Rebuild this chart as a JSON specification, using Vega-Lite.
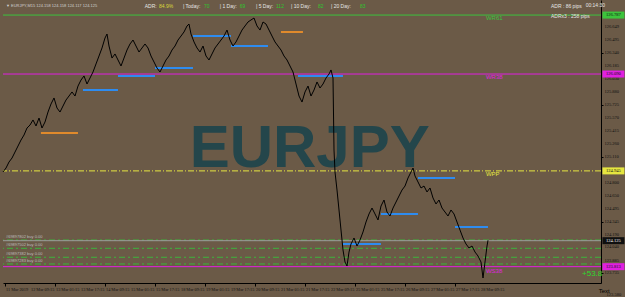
{
  "$schema": "https://vega.github.io/schema/vega-lite/v6.json",
  "width": 598,
  "height": 283,
  "padding": 0,
  "background": "#6b5a47",
  "config": {
    "view": {"stroke": null, "fill": "#6b5a47"},
    "font": "Liberation Sans",
    "axis": {"grid": false, "domainColor": "#000000", "tickColor": "#000000", "labels": false, "titleFontSize": 0}
  },
  "resolve": {"scale": {"color": "independent"}},
  "layer": [
    {
      "data": {"values": [{"t": "EURJPY", "h": 195, "p": 125.2}]},
      "mark": {"type": "text", "font": "Liberation Sans", "fontWeight": "bold", "fontSize": 60, "color": "#24464b", "align": "center", "baseline": "middle"},
      "encoding": {
        "x": {"field": "h", "type": "quantitative", "scale": {"domain": [-1.28, 381.44], "nice": false, "zero": false},
          "axis": {"orient": "bottom", "values": [0,16,32,48,64,80,96,112,128,144,160,176,192,208,224,240,256,272,288,304], "tickSize": 3, "title": null, "labels": false}},
        "y": {"field": "p", "type": "quantitative", "scale": {"domain": [123.62, 126.965], "nice": false, "zero": false},
          "axis": {"orient": "right", "values": [126.649,126.495,126.340,126.185,126.030,125.880,125.725,125.570,125.415,125.260,125.110,124.800,124.650,124.495,124.345,124.190,124.040,123.885,123.735], "tickSize": 2, "title": null, "labels": false}},
        "text": {"field": "t"}
      }
    },
    {
      "data": {"values": [
        {"kind": "orange", "h": 23.0, "h2": 46.7, "p": 125.393},
        {"kind": "blue", "h": 49.9, "h2": 72.3, "p": 125.901},
        {"kind": "blue", "h": 72.3, "h2": 96.0, "p": 126.067},
        {"kind": "blue", "h": 96.0, "h2": 120.3, "p": 126.161},
        {"kind": "blue", "h": 120.3, "h2": 144.6, "p": 126.539},
        {"kind": "blue", "h": 144.6, "h2": 168.3, "p": 126.421},
        {"kind": "orange", "h": 176.6, "h2": 190.7, "p": 126.587},
        {"kind": "blue", "h": 187.5, "h2": 216.3, "p": 126.067},
        {"kind": "blue", "h": 216.3, "h2": 240.6, "p": 124.081},
        {"kind": "blue", "h": 240.6, "h2": 264.3, "p": 124.436},
        {"kind": "blue", "h": 264.3, "h2": 288.0, "p": 124.861},
        {"kind": "blue", "h": 288.0, "h2": 309.1, "p": 124.282}
      ]},
      "mark": {"type": "rule", "strokeWidth": 2},
      "encoding": {
        "x": {"field": "h", "type": "quantitative"},
        "x2": {"field": "h2"},
        "y": {"field": "p", "type": "quantitative"},
        "color": {"field": "kind", "type": "nominal", "scale": {"domain": ["blue", "orange"], "range": ["#2e8cf0", "#e08a2c"]}, "legend": null}
      }
    },
    {
      "data": {"values": [
        {"name": "order1", "p": 124.128},
        {"name": "order2", "p": 124.030},
        {"name": "order3", "p": 123.924},
        {"name": "order4", "p": 123.845}
      ]},
      "mark": {"type": "rule", "strokeWidth": 1, "color": "#3cb43c", "strokeDash": [6, 3, 2, 3]},
      "encoding": {"y": {"field": "p", "type": "quantitative"}}
    },
    {
      "data": {"values": [
        {"name": "WR61", "p": 126.787},
        {"name": "WR38", "p": 126.090},
        {"name": "WPP", "p": 124.945},
        {"name": "Bid", "p": 124.120},
        {"name": "WS38", "p": 123.813}
      ]},
      "mark": {"type": "rule", "strokeWidth": 1},
      "encoding": {
        "y": {"field": "p", "type": "quantitative"},
        "color": {"field": "name", "type": "nominal", "scale": {"domain": ["WR61", "WR38", "WPP", "Bid", "WS38"], "range": ["#3cc43c", "#e020e0", "#e6e640", "#9c9c9c", "#e020e0"]}, "legend": null},
        "strokeDash": {"field": "name", "type": "nominal", "scale": {"domain": ["WR61", "WR38", "WPP", "Bid", "WS38"], "range": [[1, 0], [1, 0], [6, 2, 1, 2], [1, 0], [1, 0]]}, "legend": null}
      }
    },
    {
      "data": {"values": [
        {"h": -1.3, "p": 124.932}, {"h": 0.64, "p": 124.979}, {"h": 2.56, "p": 125.050}, {"h": 4.48, "p": 125.097},
        {"h": 6.4, "p": 125.168}, {"h": 8.32, "p": 125.239}, {"h": 10.24, "p": 125.310}, {"h": 12.16, "p": 125.369},
        {"h": 14.08, "p": 125.452}, {"h": 16.0, "p": 125.487}, {"h": 17.92, "p": 125.547}, {"h": 19.84, "p": 125.476},
        {"h": 21.76, "p": 125.570}, {"h": 23.68, "p": 125.452}, {"h": 25.6, "p": 125.523}, {"h": 27.52, "p": 125.641},
        {"h": 29.44, "p": 125.736}, {"h": 31.36, "p": 125.807}, {"h": 33.28, "p": 125.688}, {"h": 35.2, "p": 125.641},
        {"h": 37.12, "p": 125.712}, {"h": 39.04, "p": 125.783}, {"h": 40.96, "p": 125.830}, {"h": 42.88, "p": 125.878},
        {"h": 44.8, "p": 125.830}, {"h": 46.72, "p": 125.948}, {"h": 48.64, "p": 126.019}, {"h": 50.56, "p": 126.067},
        {"h": 52.48, "p": 125.972}, {"h": 54.4, "p": 126.043}, {"h": 56.32, "p": 126.114}, {"h": 58.24, "p": 126.209},
        {"h": 60.16, "p": 126.303}, {"h": 62.08, "p": 126.398}, {"h": 64.0, "p": 126.516}, {"h": 65.28, "p": 126.563},
        {"h": 66.56, "p": 126.421}, {"h": 68.48, "p": 126.279}, {"h": 70.4, "p": 126.327}, {"h": 72.32, "p": 126.256},
        {"h": 74.24, "p": 126.185}, {"h": 76.16, "p": 126.279}, {"h": 78.08, "p": 126.374}, {"h": 80.0, "p": 126.445},
        {"h": 81.92, "p": 126.492}, {"h": 83.84, "p": 126.421}, {"h": 85.76, "p": 126.350}, {"h": 87.68, "p": 126.398},
        {"h": 89.6, "p": 126.445}, {"h": 91.52, "p": 126.398}, {"h": 93.44, "p": 126.303}, {"h": 95.36, "p": 126.232},
        {"h": 97.28, "p": 126.161}, {"h": 99.2, "p": 126.114}, {"h": 101.12, "p": 126.185}, {"h": 103.04, "p": 126.256},
        {"h": 104.96, "p": 126.303}, {"h": 106.88, "p": 126.374}, {"h": 108.8, "p": 126.421}, {"h": 110.72, "p": 126.492},
        {"h": 112.64, "p": 126.539}, {"h": 114.56, "p": 126.587}, {"h": 116.48, "p": 126.658}, {"h": 117.76, "p": 126.681},
        {"h": 119.04, "p": 126.563}, {"h": 120.96, "p": 126.469}, {"h": 122.88, "p": 126.398}, {"h": 124.8, "p": 126.350},
        {"h": 126.72, "p": 126.421}, {"h": 128.64, "p": 126.303}, {"h": 130.56, "p": 126.256}, {"h": 132.48, "p": 126.327},
        {"h": 134.4, "p": 126.398}, {"h": 136.32, "p": 126.445}, {"h": 138.24, "p": 126.492}, {"h": 140.16, "p": 126.539},
        {"h": 142.08, "p": 126.610}, {"h": 144.0, "p": 126.492}, {"h": 145.92, "p": 126.421}, {"h": 147.84, "p": 126.469},
        {"h": 149.76, "p": 126.539}, {"h": 151.68, "p": 126.610}, {"h": 153.6, "p": 126.658}, {"h": 155.52, "p": 126.705},
        {"h": 157.44, "p": 126.729}, {"h": 159.36, "p": 126.752}, {"h": 161.28, "p": 126.658}, {"h": 163.2, "p": 126.610},
        {"h": 165.12, "p": 126.705}, {"h": 167.04, "p": 126.681}, {"h": 168.96, "p": 126.610}, {"h": 170.88, "p": 126.539},
        {"h": 172.8, "p": 126.469}, {"h": 174.72, "p": 126.421}, {"h": 176.64, "p": 126.374}, {"h": 178.56, "p": 126.303},
        {"h": 180.48, "p": 126.256}, {"h": 182.4, "p": 126.185}, {"h": 184.32, "p": 126.114}, {"h": 186.24, "p": 125.972},
        {"h": 188.16, "p": 125.830}, {"h": 190.08, "p": 125.759}, {"h": 192.0, "p": 125.878}, {"h": 193.92, "p": 125.948},
        {"h": 195.84, "p": 125.830}, {"h": 197.76, "p": 125.901}, {"h": 199.68, "p": 125.996}, {"h": 201.6, "p": 125.925},
        {"h": 203.52, "p": 125.972}, {"h": 205.44, "p": 126.043}, {"h": 207.36, "p": 126.090}, {"h": 208.64, "p": 126.138},
        {"h": 209.92, "p": 126.043}, {"h": 210.56, "p": 125.192}, {"h": 211.2, "p": 124.932}, {"h": 212.48, "p": 124.719},
        {"h": 213.76, "p": 124.483}, {"h": 215.04, "p": 124.246}, {"h": 216.32, "p": 124.010}, {"h": 217.6, "p": 123.868},
        {"h": 218.88, "p": 123.821}, {"h": 220.16, "p": 123.986}, {"h": 221.44, "p": 124.081}, {"h": 223.36, "p": 124.152},
        {"h": 225.28, "p": 124.057}, {"h": 227.2, "p": 124.128}, {"h": 229.12, "p": 124.223}, {"h": 231.04, "p": 124.341},
        {"h": 232.96, "p": 124.436}, {"h": 234.88, "p": 124.506}, {"h": 236.8, "p": 124.436}, {"h": 238.72, "p": 124.365},
        {"h": 240.64, "p": 124.530}, {"h": 242.56, "p": 124.601}, {"h": 244.48, "p": 124.459}, {"h": 246.4, "p": 124.412},
        {"h": 248.32, "p": 124.506}, {"h": 250.24, "p": 124.577}, {"h": 252.16, "p": 124.648}, {"h": 254.08, "p": 124.719},
        {"h": 256.0, "p": 124.766}, {"h": 257.92, "p": 124.861}, {"h": 259.84, "p": 124.932}, {"h": 261.12, "p": 124.979},
        {"h": 262.4, "p": 124.885}, {"h": 264.32, "p": 124.814}, {"h": 266.24, "p": 124.743}, {"h": 268.16, "p": 124.766},
        {"h": 270.08, "p": 124.696}, {"h": 272.0, "p": 124.743}, {"h": 273.92, "p": 124.625}, {"h": 275.84, "p": 124.554},
        {"h": 277.76, "p": 124.601}, {"h": 279.68, "p": 124.506}, {"h": 281.6, "p": 124.459}, {"h": 283.52, "p": 124.412},
        {"h": 285.44, "p": 124.483}, {"h": 287.36, "p": 124.436}, {"h": 289.28, "p": 124.341}, {"h": 291.2, "p": 124.246},
        {"h": 293.12, "p": 124.152}, {"h": 295.04, "p": 124.081}, {"h": 296.96, "p": 124.034}, {"h": 298.88, "p": 124.057},
        {"h": 300.8, "p": 123.986}, {"h": 302.72, "p": 123.939}, {"h": 304.64, "p": 123.868}, {"h": 305.92, "p": 123.679},
        {"h": 307.2, "p": 123.868}, {"h": 308.48, "p": 124.057}, {"h": 309.12, "p": 124.125}
      ]},
      "mark": {"type": "line", "color": "#000000", "strokeWidth": 1},
      "encoding": {"x": {"field": "h", "type": "quantitative"}, "y": {"field": "p", "type": "quantitative"}}
    },
    {
      "data": {"values": [
        {"h": 0, "t": "11 Mar 2019"}, {"h": 16, "t": "12 Mar 09:15"}, {"h": 32, "t": "13 Mar 01:15"}, {"h": 48, "t": "13 Mar 17:15"},
        {"h": 64, "t": "14 Mar 09:15"}, {"h": 80, "t": "15 Mar 01:15"}, {"h": 96, "t": "15 Mar 17:15"}, {"h": 112, "t": "18 Mar 09:15"},
        {"h": 128, "t": "19 Mar 01:15"}, {"h": 144, "t": "19 Mar 17:15"}, {"h": 160, "t": "20 Mar 09:15"}, {"h": 176, "t": "21 Mar 01:15"},
        {"h": 192, "t": "21 Mar 17:15"}, {"h": 208, "t": "22 Mar 09:15"}, {"h": 224, "t": "25 Mar 01:15"}, {"h": 240, "t": "25 Mar 17:15"},
        {"h": 256, "t": "26 Mar 09:15"}, {"h": 272, "t": "27 Mar 01:15"}, {"h": 288, "t": "27 Mar 17:15"}, {"h": 304, "t": "28 Mar 09:15"}
      ]},
      "mark": {"type": "text", "font": "Liberation Sans Narrow", "fontSize": 4.3, "color": "#111111", "align": "left", "baseline": "middle", "dx": 1, "clip": false},
      "encoding": {"x": {"field": "h", "type": "quantitative"}, "y": {"datum": 123.537}, "text": {"field": "t"}}
    },
    {
      "data": {"values": [
        {"p": 126.649}, {"p": 126.495}, {"p": 126.340}, {"p": 126.185}, {"p": 126.030}, {"p": 125.880}, {"p": 125.725},
        {"p": 125.570}, {"p": 125.415}, {"p": 125.260}, {"p": 125.110}, {"p": 124.800}, {"p": 124.650}, {"p": 124.495},
        {"p": 124.345}, {"p": 124.190}, {"p": 124.040}, {"p": 123.885}, {"p": 123.735}
      ]},
      "mark": {"type": "text", "font": "Liberation Sans Narrow", "fontSize": 4.5, "color": "#111111", "align": "left", "baseline": "middle", "clip": false},
      "encoding": {"x": {"datum": 383.6}, "y": {"field": "p", "type": "quantitative"}, "text": {"field": "p", "type": "quantitative", "format": ".3f"}}
    },
    {
      "data": {"values": [
        {"t": "\u25bc EURJPY,M15  124.158 124.158 124.117 124.125", "h": 0.6, "p": 126.894}
      ]},
      "mark": {"type": "text", "fontSize": 4, "color": "#cfcfcf", "align": "left", "baseline": "middle"},
      "encoding": {"x": {"field": "h", "type": "quantitative"}, "y": {"field": "p", "type": "quantitative"}, "text": {"field": "t"}}
    },
    {
      "data": {"values": [
        {"t": "ADR:", "h": 89.4, "p": 126.894},
        {"t": "| Today:", "h": 113.9, "p": 126.894},
        {"t": "| 1 Day:", "h": 137.4, "p": 126.894},
        {"t": "| 5 Day:", "h": 160.6, "p": 126.894},
        {"t": "| 10 Day:", "h": 183.0, "p": 126.894},
        {"t": "| 20 Day:", "h": 208.6, "p": 126.894},
        {"t": "ADR : 86 pips", "h": 349.4, "p": 126.894},
        {"t": "ADRx3 : 258 pips", "h": 349.4, "p": 126.776},
        {"t": "00:14:30", "h": 371.6, "p": 126.906}
      ]},
      "mark": {"type": "text", "fontSize": 5, "color": "#e6e6e6", "align": "left", "baseline": "middle"},
      "encoding": {"x": {"field": "h", "type": "quantitative"}, "y": {"field": "p", "type": "quantitative"}, "text": {"field": "t"}}
    },
    {
      "data": {"values": [
        {"t": "84.9%", "h": 98.6, "p": 126.894, "k": "adr"},
        {"t": "70", "h": 127.4, "p": 126.894, "k": "d"},
        {"t": "69", "h": 150.2, "p": 126.894, "k": "d"},
        {"t": "112", "h": 173.4, "p": 126.894, "k": "d"},
        {"t": "82", "h": 200.3, "p": 126.894, "k": "d"},
        {"t": "83", "h": 227.2, "p": 126.894, "k": "d"}
      ]},
      "mark": {"type": "text", "fontSize": 5, "align": "left", "baseline": "middle"},
      "encoding": {"x": {"field": "h", "type": "quantitative"}, "y": {"field": "p", "type": "quantitative"}, "text": {"field": "t"},
        "color": {"field": "k", "type": "nominal", "scale": {"domain": ["adr", "d"], "range": ["#d8d83a", "#2ec42e"]}, "legend": null}}
    },
    {
      "data": {"values": [
        {"name": "WR61", "t": "WR61", "h": 307.8, "p": 126.752},
        {"name": "WR38", "t": "WR38", "h": 307.8, "p": 126.055},
        {"name": "WPP", "t": "WPP", "h": 307.8, "p": 124.908},
        {"name": "WS38", "t": "WS38", "h": 307.8, "p": 123.765}
      ]},
      "mark": {"type": "text", "fontSize": 6, "align": "left", "baseline": "middle"},
      "encoding": {"x": {"field": "h", "type": "quantitative"}, "y": {"field": "p", "type": "quantitative"}, "text": {"field": "t"},
        "color": {"field": "name", "type": "nominal", "scale": {"domain": ["WR61", "WR38", "WPP", "WS38"], "range": ["#3cc43c", "#e020e0", "#e6e640", "#e020e0"]}, "legend": null}}
    },
    {
      "data": {"values": [
        {"t": "#69897802 buy 0.00", "h": 0.6, "p": 124.168},
        {"t": "#69897502 buy 0.00", "h": 0.6, "p": 124.070},
        {"t": "#69897382 buy 0.00", "h": 0.6, "p": 123.964},
        {"t": "#69897283 buy 0.00", "h": 0.6, "p": 123.885}
      ]},
      "mark": {"type": "text", "fontSize": 4, "color": "#bdbdbd", "align": "left", "baseline": "middle"},
      "encoding": {"x": {"field": "h", "type": "quantitative"}, "y": {"field": "p", "type": "quantitative"}, "text": {"field": "t"}}
    },
    {
      "data": {"values": [{"t": "+53.8", "h": 369.3, "p": 123.726}]},
      "mark": {"type": "text", "fontSize": 8, "color": "#2ed82e", "align": "left", "baseline": "middle"},
      "encoding": {"x": {"field": "h", "type": "quantitative"}, "y": {"field": "p", "type": "quantitative"}, "text": {"field": "t"}}
    },
    {
      "data": {"values": [{"t": "Text", "h": 380.0, "p": 123.525}]},
      "mark": {"type": "text", "fontSize": 6, "color": "#000000", "align": "left", "baseline": "middle", "clip": false},
      "encoding": {"x": {"field": "h", "type": "quantitative"}, "y": {"field": "p", "type": "quantitative"}, "text": {"field": "t"}}
    },
    {
      "data": {"values": [{"t": "123.580", "h": 385.0, "p": 123.478}]},
      "mark": {"type": "text", "font": "Liberation Sans Narrow", "fontSize": 4.5, "color": "#111111", "align": "left", "baseline": "middle", "clip": false},
      "encoding": {"x": {"field": "h", "type": "quantitative"}, "y": {"field": "p", "type": "quantitative"}, "text": {"field": "t"}}
    },
    {
      "data": {"values": [
        {"name": "WR61", "p": 126.787},
        {"name": "WR38", "p": 126.090},
        {"name": "WPP", "p": 124.945},
        {"name": "Bid", "p": 124.120},
        {"name": "WS38", "p": 123.813}
      ]},
      "mark": {"type": "tick", "orient": "horizontal", "size": 22, "thickness": 7, "opacity": 1, "clip": false},
      "encoding": {"x": {"datum": 389.4}, "y": {"field": "p", "type": "quantitative"},
        "color": {"field": "name", "type": "nominal", "scale": {"domain": ["WR61", "WR38", "WPP", "Bid", "WS38"], "range": ["#3cc43c", "#e020e0", "#e6e640", "#101010", "#e020e0"]}, "legend": null}}
    },
    {
      "data": {"values": [
        {"name": "WR61", "p": 126.787, "t": "126.787"},
        {"name": "WR38", "p": 126.090, "t": "126.090"},
        {"name": "WPP", "p": 124.945, "t": "124.945"},
        {"name": "Bid", "p": 124.120, "t": "124.125"},
        {"name": "WS38", "p": 123.813, "t": "123.813"}
      ]},
      "mark": {"type": "text", "font": "Liberation Sans Narrow", "fontSize": 4.6, "align": "center", "baseline": "middle", "clip": false},
      "encoding": {"x": {"datum": 389.4}, "y": {"field": "p", "type": "quantitative"}, "text": {"field": "t"},
        "color": {"condition": {"test": "datum.name === 'Bid'", "value": "#ffffff"}, "value": "#111111"}}
    }
  ]
}
